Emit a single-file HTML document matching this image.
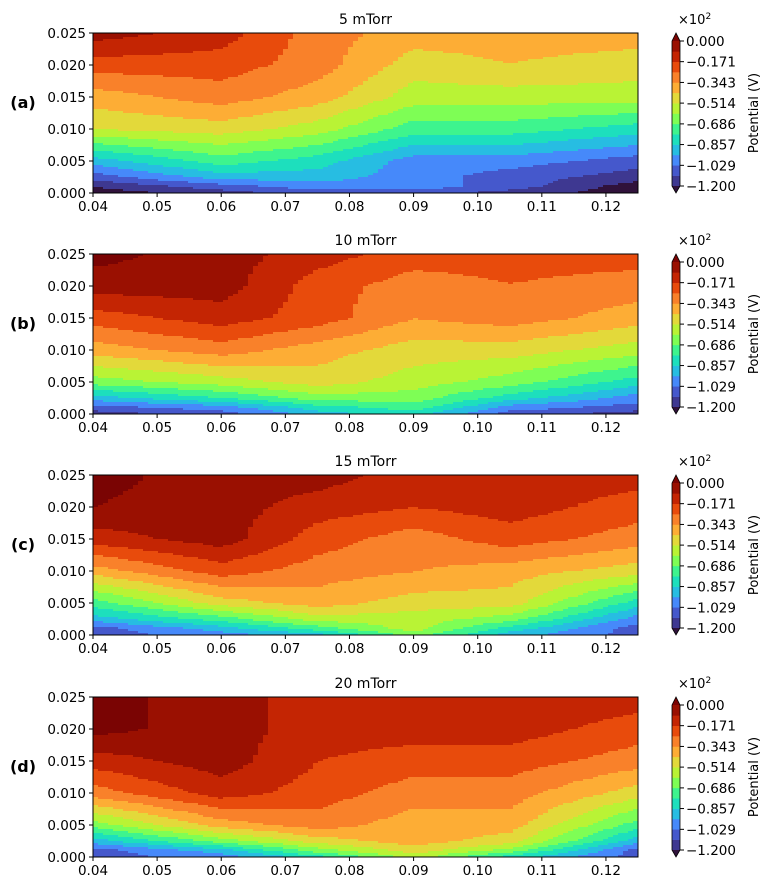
<!DOCTYPE html>
<html><head><meta charset="utf-8"><style>
body{margin:0;background:#fff;}
svg{display:block;font-family:"DejaVu Sans","Liberation Sans",sans-serif;}
</style></head><body>
<svg id="fig" width="771" height="890" viewBox="0 0 771 890" xmlns="http://www.w3.org/2000/svg"></svg>
<script>
// ---- data ----
const titles = ["5 mTorr","10 mTorr","15 mTorr","20 mTorr"];
const panelLabels = ["(a)","(b)","(c)","(d)"];
const xCols = [0.04,0.06,0.075,0.09,0.105,0.125];
const yRows = [0,0.001,0.0025,0.005,0.01,0.015,0.02,0.025];
// potential values (x10^2 V), rows bottom->top
const fieldA = [
 [-1.25,-1.157,-1.071,-1.071,-1.157,-1.25],
 [-1.2,-1.071,-0.986,-0.986,-1.071,-1.25],
 [-1.071,-0.900,-0.900,-0.986,-1.071,-1.157],
 [-0.900,-0.729,-0.814,-0.986,-0.986,-1.071],
 [-0.51,-0.471,-0.557,-0.729,-0.729,-0.814],
 [-0.386,-0.300,-0.386,-0.557,-0.557,-0.557],
 [-0.214,-0.214,-0.300,-0.471,-0.43,-0.471],
 [-0.043,-0.129,-0.300,-0.386,-0.386,-0.386]];
const fieldB = [
 [-1.157,-1.071,-0.900,-0.814,-1.071,-1.157],
 [-1.071,-0.986,-0.814,-0.729,-0.986,-1.071],
 [-0.900,-0.77,-0.643,-0.643,-0.814,-0.986],
 [-0.643,-0.557,-0.471,-0.557,-0.643,-0.814],
 [-0.386,-0.300,-0.386,-0.471,-0.471,-0.557],
 [-0.214,-0.129,-0.214,-0.34,-0.300,-0.386],
 [-0.043,-0.043,-0.214,-0.300,-0.26,-0.300],
 [0.03,-0.043,-0.129,-0.214,-0.214,-0.214]];
const fieldC = [
 [-1.071,-0.986,-0.900,-0.643,-0.900,-1.071],
 [-1.071,-0.900,-0.729,-0.557,-0.814,-1.071],
 [-0.900,-0.729,-0.557,-0.557,-0.643,-0.986],
 [-0.729,-0.471,-0.386,-0.471,-0.471,-0.814],
 [-0.386,-0.214,-0.300,-0.34,-0.386,-0.471],
 [-0.129,-0.043,-0.214,-0.300,-0.214,-0.300],
 [0.0,-0.043,-0.129,-0.17,-0.129,-0.214],
 [0.03,-0.043,-0.043,-0.129,-0.129,-0.129]];
const fieldD = [
 [-1.071,-0.986,-0.814,-0.557,-0.814,-1.071],
 [-1.071,-0.900,-0.643,-0.471,-0.643,-1.071],
 [-0.900,-0.643,-0.471,-0.386,-0.471,-0.900],
 [-0.643,-0.386,-0.300,-0.386,-0.386,-0.729],
 [-0.300,-0.129,-0.214,-0.300,-0.300,-0.471],
 [-0.129,-0.043,-0.17,-0.214,-0.214,-0.300],
 [0.03,-0.043,-0.129,-0.129,-0.129,-0.214],
 [0.03,-0.043,-0.129,-0.129,-0.10,-0.129]];
const fields = [fieldA,fieldB,fieldC,fieldD];
const xTicks = [0.04,0.05,0.06,0.07,0.08,0.09,0.10,0.11,0.12];
const xTickLabels = ["0.04","0.05","0.06","0.07","0.08","0.09","0.10","0.11","0.12"];
const yTicks = [0,0.005,0.01,0.015,0.02,0.025];
const yTickLabels = ["0.000","0.005","0.010","0.015","0.020","0.025"];
const cbTicks = [0,-0.171,-0.343,-0.514,-0.686,-0.857,-1.029,-1.2];
const cbTickLabels = ["0.000","\u22120.171","\u22120.343","\u22120.514","\u22120.686","\u22120.857","\u22121.029","\u22121.200"];
const bandColors = ["#3e3891","#4558cc","#4689fa","#27bde2","#1ddfbd","#3ef48e","#7efe55","#b9f335","#e3d93a","#fdad35","#f9812a","#e84b0c","#c42503","#9a1001"];
const underColor = "#30123b", overColor = "#7a0403";

// ---- layout ----
const NS="http://www.w3.org/2000/svg";
const svg=document.getElementById('fig');
const tops=[33,254,475,697];
const PL=93, PW=545, PH=160;
const CBX=672, CBW=8;
function el(tag,attrs,parent){const e=document.createElementNS(NS,tag);for(const k in attrs)e.setAttribute(k,attrs[k]);(parent||svg).appendChild(e);return e;}
function colorFor(v){
  if(v>0) return overColor;
  if(v<-1.2) return underColor;
  let b=Math.floor((v+1.2)/(1.2/14)); if(b>13)b=13; if(b<0)b=0;
  return bandColors[b];
}
function interp(f,x,y){
  let i=0; while(i<xCols.length-2 && x>xCols[i+1]) i++;
  let j=0; while(j<yRows.length-2 && y>yRows[j+1]) j++;
  const tx=(x-xCols[i])/(xCols[i+1]-xCols[i]);
  const ty=(y-yRows[j])/(yRows[j+1]-yRows[j]);
  const a=f[j][i]*(1-tx)+f[j][i+1]*tx;
  const b=f[j+1][i]*(1-tx)+f[j+1][i+1]*tx;
  return a*(1-ty)+b*ty;
}
panelLabels.forEach((lab,p)=>{
  const top=tops[p];
  const g=el('g',{});
  
  
  const sx=x=>PL+(x-0.04)/(0.085)*PW;
  const sy=y=>top+PH-(y/0.025)*PH;
  const cw=5, ch=2;
  const hm=el('g',{'shape-rendering':'crispEdges'},g);
  
  
  for(let cy=0;cy<PH;cy+=ch){
    let runStart=0, runColor=null;
    for(let cx=0;cx<=PW;cx+=cw){
      let c=null;
      if(cx<PW){
        const xv=0.04+(cx+cw/2)/PW*0.085;
        const yv=(PH-cy-ch/2)/PH*0.025;
        c=colorFor(interp(fields[p],xv,yv));
      }
      if(c!==runColor){
        if(runColor!==null){
          const r=el('rect',{x:PL+runStart,y:top+cy,width:Math.min(cx,PW)-runStart,height:ch,fill:runColor},hm);
          
          
        }
        runStart=cx; runColor=c;
      }
    }
  }
  const fr=el('rect',{x:PL,y:top,width:PW,height:PH,fill:'none',stroke:'#000','stroke-width':1},g);
  
  
  xTicks.forEach((t,k)=>{
    el('line',{x1:sx(t),x2:sx(t),y1:top+PH,y2:top+PH+4,stroke:'#000'},g);
    const tx=el('text',{x:sx(t),y:top+PH+18,'text-anchor':'middle','font-size':13.5},g);
    tx.textContent=xTickLabels[k];
    
    
  });
  yTicks.forEach((t,k)=>{
    el('line',{x1:PL-4,x2:PL,y1:sy(t),y2:sy(t),stroke:'#000'},g);
    const tx=el('text',{x:PL-7,y:sy(t)+5,'text-anchor':'end','font-size':13.5},g);
    tx.textContent=yTickLabels[k];
    
    
  });
  const tt=el('text',{x:PL+PW/2,y:top-9,'text-anchor':'middle','font-size':14},g);
  tt.textContent=titles[p];
  
  
  const pl=el('text',{x:23,y:top+75,'text-anchor':'middle','font-size':16,'font-weight':'bold'},g);
  pl.textContent=lab;
  
  
  // colorbar
  const cb=el('g',{},g);
  
  
  const c0=top+8, c1=top+PH-7;
  const cv=v=>c1-(v+1.2)/1.2*(c1-c0);
  bandColors.forEach((c,b)=>{
    const lo=-1.2+b*1.2/14, hi=lo+1.2/14;
    const r=el('rect',{x:CBX,y:cv(hi),width:CBW,height:cv(lo)-cv(hi)+0.3,fill:c},cb);
    
    
  });
  el('polygon',{points:`${CBX},${c0} ${CBX+CBW/2},${top} ${CBX+CBW},${c0}`,fill:overColor},cb);
  el('polygon',{points:`${CBX},${c1} ${CBX+CBW/2},${top+PH} ${CBX+CBW},${c1}`,fill:underColor},cb);
  el('polygon',{points:`${CBX},${c0} ${CBX+CBW/2},${top} ${CBX+CBW},${c0} ${CBX+CBW},${c1} ${CBX+CBW/2},${top+PH} ${CBX},${c1}`,fill:'none',stroke:'#000','stroke-width':0.8},cb);
  cbTicks.forEach((t,k)=>{
    el('line',{x1:CBX+CBW,x2:CBX+CBW+4,y1:cv(t),y2:cv(t),stroke:'#000'},cb);
    const tx=el('text',{x:CBX+CBW+6,y:cv(t)+5,'font-size':13.5},cb);
    tx.textContent=cbTickLabels[k];
    
    
  });
  const ex=el('text',{x:678,y:top-9,'font-size':13},cb);
  ex.innerHTML='\u00d710<tspan dy="-5" font-size="9">2</tspan>';
  
  
  const yl=el('text',{x:0,y:0,'font-size':13,'text-anchor':'middle',transform:`translate(758,${top+PH/2}) rotate(-90)`},cb);
  yl.textContent='Potential (V)';
  
  
});
</script>
</body></html>
